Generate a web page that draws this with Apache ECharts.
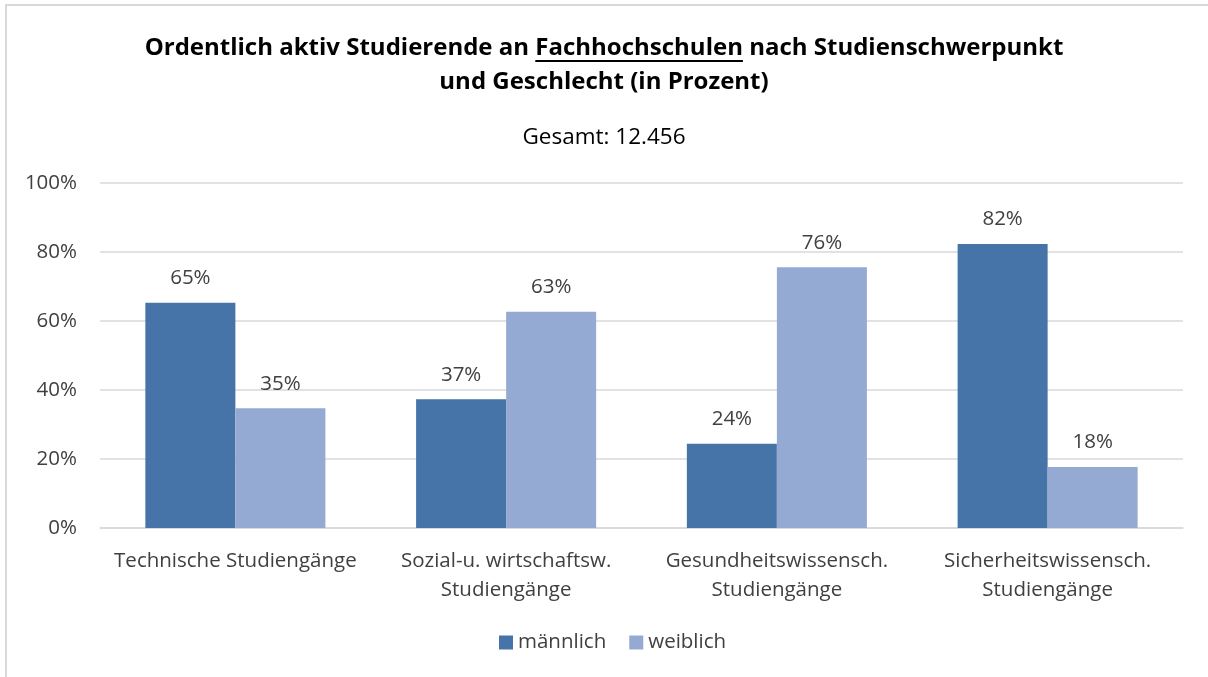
<!DOCTYPE html>
<html>
<head>
<meta charset="utf-8">
<title>Ordentlich aktiv Studierende an Fachhochschulen</title>
<script src="https://cdn.jsdelivr.net/npm/echarts@6/dist/echarts.min.js"></script>
<style>
  html, body { margin: 0; padding: 0; background: #fff; }
  #chart { width: 1208px; height: 677px; }
</style>
</head>
<body>
<div id="chart"></div>
<script>
// Daten
var kategorien = ['Technische Studiengänge', 'Sozial-u. wirtschaftsw.\nStudiengänge', 'Gesundheitswissensch.\nStudiengänge', 'Sicherheitswissensch.\nStudiengänge'];
var maennlich = [65.3, 37.3, 24.4, 82.3];
var weiblich = [34.7, 62.7, 75.6, 17.7];
var yTicks = [0, 20, 40, 60, 80, 100];

var FONT = '"Open Sans", sans-serif';
var titelVor = 'Ordentlich aktiv Studierende an ';
var titelU = 'Fachhochschulen';
var titelNach = ' nach Studienschwerpunkt';
var titelSize = 24;
var titelTop = 31, titelLH = 34;
var schrift = 20.5;

// Breite messen fuer die Unterstreichung
function textBreite(t, font) {
    var c = document.createElement('canvas').getContext('2d');
    c.font = font;
    return c.measureText(t).width;
}
var tf = 'bold ' + titelSize + 'px ' + FONT;
var wVor = textBreite(titelVor, tf);
var wU = textBreite(titelU, tf);
var wGes = wVor + wU + textBreite(titelNach, tf);
var uX = 1208 / 2 - wGes / 2 + wVor;
var uY = titelTop + titelLH / 2 + 13;

var e = echarts.init(document.getElementById('chart'));
var option = {
    backgroundColor: '#fff',
    textStyle: { fontFamily: FONT },
    title: [{
        text: titelVor + titelU + titelNach + '\nund Geschlecht (in Prozent)',
        left: 'center',
        top: titelTop,
        padding: 0,
        textStyle: {
            fontFamily: FONT,
            fontSize: titelSize,
            fontWeight: 'bold',
            color: '#000',
            lineHeight: titelLH,
            align: 'center'
        }
    }, {
        text: 'Gesamt: 12.456',
        left: 'center',
        top: 126,
        padding: 0,
        textStyle: {
            fontFamily: FONT,
            fontSize: 22.5,
            fontWeight: 'normal',
            color: '#000'
        }
    }],
    graphic: [{
        type: 'line',
        shape: { x1: uX, y1: uY, x2: uX + wU, y2: uY },
        style: { stroke: '#000', lineWidth: 2 }
    }, {
        type: 'rect',
        shape: { x: 6, y: 5, width: 1400, height: 1000 },
        style: { fill: 'none', stroke: '#d9d9d9', lineWidth: 2 },
        silent: true
    }],
    legend: {
        bottom: 24,
        left: 499,
        padding: 0,
        icon: 'rect',
        itemWidth: 14,
        itemHeight: 14,
        itemGap: 23,
        textStyle: { fontSize: schrift, color: '#404040', fontFamily: FONT },
        data: ['männlich', 'weiblich']
    },
    grid: { left: 100, right: 25, top: 183, bottom: 149 },
    xAxis: {
        type: 'category',
        data: kategorien,
        axisTick: { show: false },
        axisLine: { lineStyle: { color: '#d9d9d9', width: 1.5 } },
        axisLabel: { fontSize: schrift, color: '#404040', lineHeight: 29, margin: 19, interval: 0 }
    },
    yAxis: {
        type: 'value',
        min: yTicks[0],
        max: yTicks[yTicks.length - 1],
        interval: 20,
        axisLine: { show: false },
        axisTick: { show: false },
        splitLine: { lineStyle: { color: '#d9d9d9', width: 1.5 } },
        axisLabel: { fontSize: schrift, color: '#404040', margin: 23, formatter: '{value}%' }
    },
    series: [{
        name: 'männlich',
        type: 'bar',
        data: maennlich,
        barGap: '0%',
        barCategoryGap: '33.5%',
        itemStyle: { color: '#4674A8' },
        label: {
            show: true, position: 'top', distance: 14,
            fontSize: schrift, color: '#404040',
            formatter: function (p) { return Math.round(p.value) + '%'; }
        }
    }, {
        name: 'weiblich',
        type: 'bar',
        data: weiblich,
        itemStyle: { color: '#95AAD2' },
        label: {
            show: true, position: 'top', distance: 14,
            fontSize: schrift, color: '#404040',
            formatter: function (p) { return Math.round(p.value) + '%'; }
        }
    }]
};
e.setOption(option);
</script>
</body>
</html>
